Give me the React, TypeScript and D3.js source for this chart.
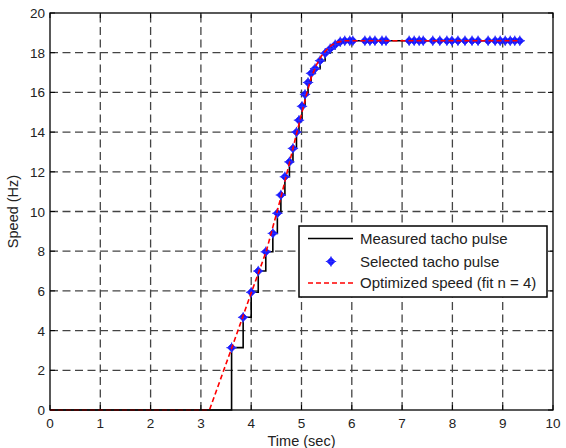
import React from "react";
import * as d3 from "d3";

const xTicks = [0, 1, 2, 3, 4, 5, 6, 7, 8, 9, 10];
const yTicks = [0, 2, 4, 6, 8, 10, 12, 14, 16, 18, 20];

const pulseTimes = [3.61, 3.84, 4.0, 4.14, 4.29, 4.43, 4.52, 4.59, 4.67, 4.76, 4.83, 4.9, 4.95, 5.01, 5.07, 5.13, 5.19, 5.27, 5.37, 5.47, 5.57, 5.67, 5.77, 5.86, 5.96, 6.02, 6.26, 6.36, 6.46, 6.6, 6.68, 7.14, 7.24, 7.34, 7.42, 7.61, 7.75, 7.89, 7.99, 8.11, 8.25, 8.39, 8.51, 8.71, 8.85, 8.95, 9.05, 9.15, 9.24, 9.34];
const pulseSpeeds = [3.14, 4.67, 5.93, 7.0, 7.97, 8.9, 9.91, 10.83, 11.75, 12.5, 13.18, 14.0, 14.6, 15.3, 15.9, 16.5, 16.96, 17.2, 17.6, 17.97, 18.2, 18.4, 18.55, 18.6, 18.6, 18.6, 18.6, 18.6, 18.6, 18.6, 18.6, 18.6, 18.6, 18.6, 18.6, 18.6, 18.6, 18.6, 18.6, 18.6, 18.6, 18.6, 18.6, 18.6, 18.6, 18.6, 18.6, 18.6, 18.6, 18.6];

const fitTimes = [0, 3.17, 3.61, 4.0, 4.3, 4.6, 4.9, 5.1, 5.2, 5.3, 5.4, 5.5, 5.6, 5.7, 5.85, 9.34];
const fitSpeeds = [0, 0, 3.1, 5.9, 8.0, 10.8, 13.9, 15.9, 16.8, 17.4, 17.85, 18.15, 18.38, 18.52, 18.6, 18.6];

const legendLabels = ["Measured tacho pulse", "Selected tacho pulse", "Optimized speed (fit n = 4)"];

const W = 566, H = 448;
const L = 50, R = 553, T = 13, B = 410;
const font = "'Liberation Sans', Arial, sans-serif";

function Marker({ x, y, s = 4.2 }: { x: number; y: number; s?: number }) {
  return (
    <g>
      <path d={`M${x},${y - s}L${x + s},${y}L${x},${y + s}L${x - s},${y}Z`} fill="#1010ff" stroke="#2020ff" strokeWidth={0.8} />
      <path d={`M${x - s - 1},${y}H${x + s + 1}M${x},${y - s - 1}V${y + s + 1}`} stroke="#3030ff" strokeWidth={1} />
    </g>
  );
}

export default function App() {
  const x = d3.scaleLinear().domain([0, 10]).range([L, R]);
  const y = d3.scaleLinear().domain([0, 20]).range([B, T]);

  const stepPts: [number, number][] = [[0, 0], [pulseTimes[0], 0]];
  pulseTimes.forEach((t, i) => {
    stepPts.push([t, pulseSpeeds[i]]);
    const next = i < pulseTimes.length - 1 ? pulseTimes[i + 1] : t;
    stepPts.push([next, pulseSpeeds[i]]);
  });
  const line = d3.line<[number, number]>().x((d) => x(d[0])).y((d) => y(d[1]));
  const fitPts = fitTimes.map((t, i) => [t, fitSpeeds[i]] as [number, number]);

  const lx = 299, ly = 226, lw = 248, lh = 71;
  const rows = [238.5, 261.5, 283];

  return (
    <svg width={W} height={H} style={{ position: "absolute", left: 0, top: 0, background: "#fff" }}>
      <rect x={0} y={0} width={W} height={H} fill="#fff" />
      {/* grid */}
      <g stroke="#444" strokeWidth={1.3} strokeDasharray="8,4.5">
        {xTicks.slice(1, -1).map((t) => (
          <line key={"gx" + t} x1={x(t)} x2={x(t)} y1={B} y2={T} />
        ))}
        {yTicks.slice(1, -1).map((t) => (
          <line key={"gy" + t} x1={L} x2={R} y1={y(t)} y2={y(t)} />
        ))}
      </g>
      {/* ticks */}
      <g stroke="#000" strokeWidth={1}>
        {xTicks.map((t) => (
          <g key={"tx" + t}>
            <line x1={x(t)} x2={x(t)} y1={B} y2={B - 5} />
            <line x1={x(t)} x2={x(t)} y1={T} y2={T + 5} />
          </g>
        ))}
        {yTicks.map((t) => (
          <g key={"ty" + t}>
            <line x1={L} x2={L + 5} y1={y(t)} y2={y(t)} />
            <line x1={R} x2={R - 5} y1={y(t)} y2={y(t)} />
          </g>
        ))}
      </g>
      {/* data */}
      <path d={line(stepPts) || ""} fill="none" stroke="#000" strokeWidth={1.6} />
      {pulseTimes.map((t, i) => (
        <Marker key={"m" + i} x={x(t)} y={y(pulseSpeeds[i])} />
      ))}
      <path d={line(fitPts) || ""} fill="none" stroke="#ff0000" strokeWidth={1.6} strokeDasharray="5,3" />
      {/* axes box */}
      <rect x={L} y={T} width={R - L} height={B - T} fill="none" stroke="#000" strokeWidth={1.3} />
      {/* tick labels */}
      <g fontFamily={font} fontSize={13.5} fill="#222">
        {xTicks.map((t) => (
          <text key={"lx" + t} x={x(t)} y={B + 18} textAnchor="middle">{t}</text>
        ))}
        {yTicks.map((t) => (
          <text key={"ly" + t} x={L - 5} y={y(t) + 5} textAnchor="end">{t}</text>
        ))}
      </g>
      <g fontFamily={font} fontSize={14.5} fill="#222">
        <text x={(L + R) / 2} y={446} textAnchor="middle">Time (sec)</text>
        <text transform={`translate(18,${(T + B) / 2}) rotate(-90)`} textAnchor="middle">Speed (Hz)</text>
      </g>
      {/* legend */}
      <rect x={lx} y={ly} width={lw} height={lh} fill="#fff" stroke="#000" strokeWidth={1.5} />
      <line x1={308} x2={353} y1={rows[0]} y2={rows[0]} stroke="#000" strokeWidth={1.6} />
      <Marker x={331} y={rows[1]} />
      <line x1={308} x2={353} y1={rows[2]} y2={rows[2]} stroke="#ff0000" strokeWidth={1.6} strokeDasharray="5,3" />
      <g fontFamily={font} fontSize={15} fill="#222">
        {legendLabels.map((s, i) => (
          <text key={s} x={360} y={rows[i] + 5.3}>{s}</text>
        ))}
      </g>
    </svg>
  );
}
